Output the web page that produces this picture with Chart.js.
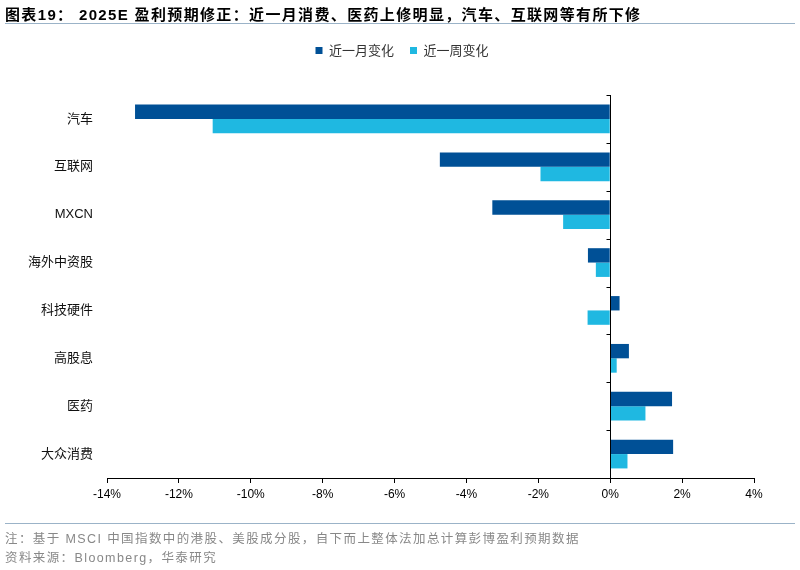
<!DOCTYPE html>
<html>
<head>
<meta charset="utf-8">
<script src="https://cdn.jsdelivr.net/npm/chart.js@4.4.1/dist/chart.umd.min.js"></script>
<style>
  html, body { margin: 0; padding: 0; background: #fff; }
  #wrap { position: relative; width: 800px; height: 570px; overflow: hidden; font-family: "Liberation Sans", "Noto Sans CJK SC", sans-serif; }
  #title { position: absolute; left: 5px; top: 3px; font-size: 15px; font-weight: bold; color: #000; white-space: nowrap; letter-spacing: 1.35px; }
  #tline { position: absolute; left: 5px; top: 23px; width: 790px; height: 0; border-top: 1.5px solid #9bb3c8; }
  #fline { position: absolute; left: 5px; top: 523px; width: 790px; height: 0; border-top: 1.5px solid #9bb3c8; }
  .note { position: absolute; left: 5px; font-size: 12.5px; color: #888; white-space: nowrap; letter-spacing: 1.4px; }
  canvas { position: absolute; left: 0; top: 0; }
</style>
</head>
<body>
<div id="wrap">
  <canvas id="c" width="800" height="570"></canvas>
  <div id="title">图表19： 2025E 盈利预期修正：近一月消费、医药上修明显，汽车、互联网等有所下修</div>
  <div id="tline"></div>
  <div id="fline"></div>
  <div class="note" style="top:528px;">注：基于 MSCI 中国指数中的港股、美股成分股，自下而上整体法加总计算彭博盈利预期数据</div>
  <div class="note" style="top:547px;">资料来源：Bloomberg，华泰研究</div>
</div>
<script>
const categories = ["汽车", "互联网", "MXCN", "海外中资股", "科技硬件", "高股息", "医药", "大众消费"];
const seriesNames = ["近一月变化", "近一周变化"];
const monthChange = [-13.22, -4.74, -3.28, -0.62, 0.26, 0.52, 1.72, 1.75];
const weekChange = [-11.06, -1.94, -1.31, -0.40, -0.63, 0.18, 0.98, 0.48];
const xMin = -14, xMax = 4, xStep = 2;

const zeroLinePlugin = {
  id: 'zeroLine',
  afterDatasetsDraw(chart) {
    const { ctx, chartArea, scales } = chart;
    const x0 = Math.round(scales.x.getPixelForValue(0)) + 0.5;
    ctx.save();
    ctx.strokeStyle = '#000';
    ctx.lineWidth = 1;
    ctx.beginPath();
    ctx.moveTo(x0, chartArea.top);
    ctx.lineTo(x0, chartArea.bottom);
    const n = categories.length;
    const band = (chartArea.bottom - chartArea.top) / n;
    for (let k = 0; k < n; k++) {
      const y = Math.round(chartArea.top + k * band) + 0.5;
      ctx.moveTo(x0 - 4, y);
      ctx.lineTo(x0, y);
    }
    ctx.stroke();
    ctx.restore();
  }
};

const legendLayoutPlugin = {
  id: 'legendLayout',
  beforeUpdate(chart) {
    const lg = chart.legend;
    if (lg && !lg._fitPatched) {
      const orig = lg.fit;
      lg.fit = function () { orig.call(this); this.height = 67; };
      lg._fitPatched = true;
    }
  },
  afterLayout(chart) {
    const lg = chart.legend;
    if (lg) { lg.left += 25; lg.right += 25; }
  }
};

new Chart(document.getElementById('c'), {
  type: 'bar',
  data: {
    labels: categories,
    datasets: [
      { label: seriesNames[0], data: monthChange, backgroundColor: '#005096', categoryPercentage: 0.6, barPercentage: 1.0 },
      { label: seriesNames[1], data: weekChange, backgroundColor: '#1fb8e1', categoryPercentage: 0.6, barPercentage: 1.0 }
    ]
  },
  options: {
    indexAxis: 'y',
    responsive: false,
    animation: false,
    devicePixelRatio: 1,
    layout: { padding: { top: 28, left: 0, right: 46, bottom: 62 } },
    plugins: {
      legend: {
        position: 'top',
        labels: {
          boxWidth: 7, boxHeight: 7, padding: 16,
          color: '#333',
          font: { size: 13, family: '"Noto Sans CJK SC", sans-serif' }
        }
      },
      tooltip: { enabled: false },
      title: { display: false }
    },
    scales: {
      x: {
        type: 'linear',
        min: xMin, max: xMax,
        ticks: {
          stepSize: xStep,
          color: '#000',
          padding: 4,
          font: { size: 12, family: '"Liberation Sans", sans-serif' },
          callback: v => v + '%'
        },
        grid: { drawOnChartArea: false, drawTicks: true, tickLength: 5, tickColor: '#000' },
        border: { display: true, color: '#000', width: 1 },
        afterFit: s => { s.height = 30; }
      },
      y: {
        ticks: {
          color: '#111',
          padding: 6,
          font: { size: 13, family: '"Liberation Sans", "Noto Sans CJK SC", sans-serif' }
        },
        grid: { display: false },
        border: { display: false },
        afterFit: s => { s.width = 107; }
      }
    }
  },
  plugins: [legendLayoutPlugin, zeroLinePlugin]
});
</script>
</body>
</html>
